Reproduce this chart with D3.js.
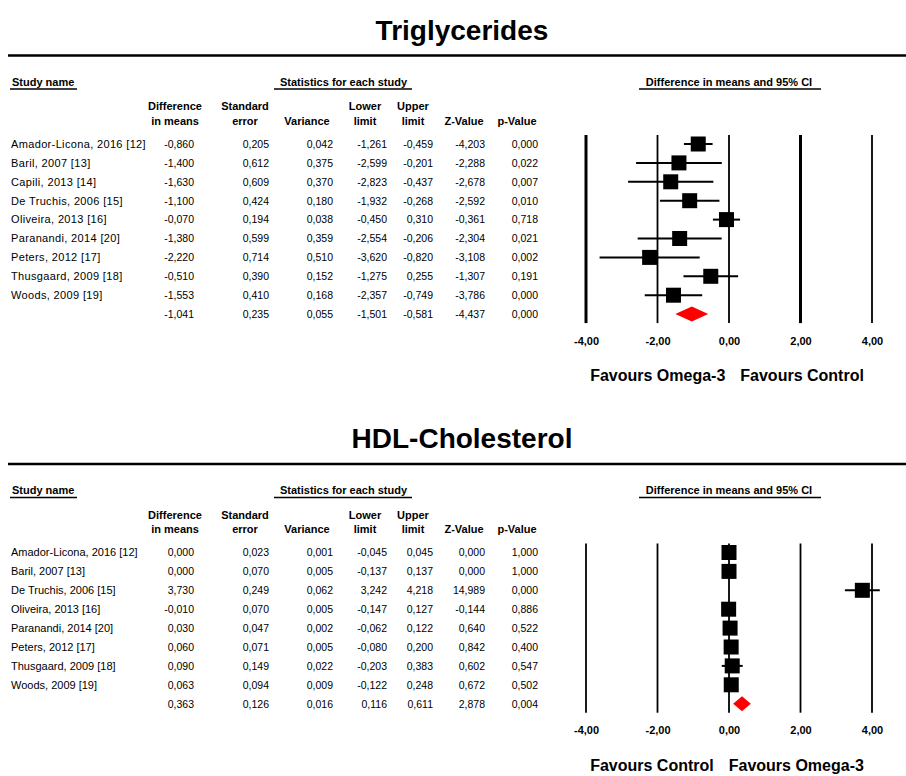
<!DOCTYPE html>
<html>
<head>
<meta charset="utf-8">
<script src="https://cdn.jsdelivr.net/npm/d3@7"></script>
<style>
  html, body { margin: 0; padding: 0; background: #fff; }
  svg { display: block; font-family: "Liberation Sans", Arial, sans-serif; }
</style>
</head>
<body>
<svg id="chart" width="906" height="776"></svg>
<script>
// ---- Triglycerides ----
const tgStudies = ["Amador-Licona, 2016 [12]", "Baril, 2007 [13]", "Capili, 2013 [14]", "De Truchis, 2006 [15]",
  "Oliveira, 2013 [16]", "Paranandi, 2014 [20]", "Peters, 2012 [17]", "Thusgaard, 2009 [18]", "Woods, 2009 [19]"];
const tgDiff  = [-0.860, -1.400, -1.630, -1.100, -0.070, -1.380, -2.220, -0.510, -1.553];
const tgSE    = [0.205, 0.612, 0.609, 0.424, 0.194, 0.599, 0.714, 0.390, 0.410];
const tgVar   = [0.042, 0.375, 0.370, 0.180, 0.038, 0.359, 0.510, 0.152, 0.168];
const tgLower = [-1.261, -2.599, -2.823, -1.932, -0.450, -2.554, -3.620, -1.275, -2.357];
const tgUpper = [-0.459, -0.201, -0.437, -0.268, 0.310, -0.206, -0.820, 0.255, -0.749];
const tgZ     = [-4.203, -2.288, -2.678, -2.592, -0.361, -2.304, -3.108, -1.307, -3.786];
const tgP     = [0.000, 0.022, 0.007, 0.010, 0.718, 0.021, 0.002, 0.191, 0.000];
// pooled: diff, se, variance, lower, upper, z, p
const tgPooled = [-1.041, 0.235, 0.055, -1.501, -0.581, -4.437, 0.000];

// ---- HDL-Cholesterol ----
const hdlStudies = ["Amador-Licona, 2016 [12]", "Baril, 2007 [13]", "De Truchis, 2006 [15]", "Oliveira, 2013 [16]",
  "Paranandi, 2014 [20]", "Peters, 2012 [17]", "Thusgaard, 2009 [18]", "Woods, 2009 [19]"];
const hdlDiff  = [0.000, 0.000, 3.730, -0.010, 0.030, 0.060, 0.090, 0.063];
const hdlSE    = [0.023, 0.070, 0.249, 0.070, 0.047, 0.071, 0.149, 0.094];
const hdlVar   = [0.001, 0.005, 0.062, 0.005, 0.002, 0.005, 0.022, 0.009];
const hdlLower = [-0.045, -0.137, 3.242, -0.147, -0.062, -0.080, -0.203, -0.122];
const hdlUpper = [0.045, 0.137, 4.218, 0.127, 0.122, 0.200, 0.383, 0.248];
const hdlZ     = [0.000, 0.000, 14.989, -0.144, 0.640, 0.842, 0.602, 0.672];
const hdlP     = [1.000, 1.000, 0.000, 0.886, 0.522, 0.400, 0.547, 0.502];
const hdlPooled = [0.363, 0.126, 0.016, 0.116, 0.611, 2.878, 0.004];

const axisTicks = [-4, -2, 0, 2, 4];

// European number style: comma decimals, ASCII hyphen for minus
const locale = d3.formatLocale({ decimal: ",", thousands: ".", grouping: [3], currency: ["", ""], minus: "-" });
const f3 = locale.format(".3f");
const f2 = locale.format(".2f");

const svg = d3.select("#chart");
const x = d3.scaleLinear().domain([-4, 4]).range([586, 872]);

// Column layout of the statistics table (right edges of values, header centres)
const cols = [
  { head: ["Difference", "in means"], cx: 175, right: 194 },
  { head: ["Standard", "error"], cx: 245, right: 269 },
  { head: ["", "Variance"], cx: 307, right: 333 },
  { head: ["Lower", "limit"], cx: 365, right: 387 },
  { head: ["Upper", "limit"], cx: 413, right: 433 },
  { head: ["", "Z-Value"], cx: 464, right: 485 },
  { head: ["", "p-Value"], cx: 517, right: 538 }
];

function panel(cfg) {
  const g = svg.append("g");
  const top = cfg.rule;
  const rowStep = 18.9;
  const row0 = top + 88.5;
  const n = cfg.studies.length;
  const rowY = i => row0 + i * rowStep;

  // title and rule
  g.append("text").attr("x", 462).attr("y", top - 16)
    .attr("text-anchor", "middle").attr("font-size", 28).attr("font-weight", "bold")
    .text(cfg.title);
  g.append("line").attr("x1", 8).attr("x2", 906).attr("y1", top).attr("y2", top)
    .attr("stroke", "#000").attr("stroke-width", 2.5);

  // group headers with underlines
  const groupHeads = [
    { text: "Study name", x: 12, anchor: "start", u: [10, 77] },
    { text: "Statistics for each study", x: 343.5, anchor: "middle", u: [274, 412] },
    { text: "Difference in means and 95% CI", x: x(0), anchor: "middle", u: [639, 821] }
  ];
  groupHeads.forEach(h => {
    g.append("text").attr("x", h.x).attr("y", top + 30).attr("text-anchor", h.anchor)
      .attr("font-size", 11).attr("font-weight", "bold").text(h.text);
    g.append("line").attr("x1", h.u[0]).attr("x2", h.u[1]).attr("y1", top + 33.5).attr("y2", top + 33.5)
      .attr("stroke", "#000").attr("stroke-width", 1.3);
  });

  // column headers
  cols.forEach(c => {
    c.head.forEach((t, k) => {
      if (!t) return;
      g.append("text").attr("x", c.cx).attr("y", top + 54.5 + k * 14.6)
        .attr("text-anchor", "middle").attr("font-size", 11).attr("font-weight", "bold").text(t);
    });
  });

  // table body
  const rows = cfg.studies.map((s, i) => ({
    name: s,
    vals: [cfg.diff[i], cfg.se[i], cfg.variance[i], cfg.lower[i], cfg.upper[i], cfg.z[i], cfg.p[i]]
  }));
  rows.push({ name: "", vals: cfg.pooled });

  rows.forEach((r, i) => {
    const y = rowY(i) + 3.8;
    g.append("text").attr("x", 11).attr("y", y).attr("font-size", 11)
      .attr("letter-spacing", cfg.nameSpacing).text(r.name);
    r.vals.forEach((v, k) => {
      g.append("text").attr("x", cols[k].right).attr("y", y).attr("text-anchor", "end")
        .attr("font-size", 10.5).text(f3(v));
    });
  });

  // forest plot reference lines
  const yTop = row0 - 9, yBot = rowY(n) + 9;
  g.selectAll(".ref").data(axisTicks).enter().append("line")
    .attr("x1", d => x(d)).attr("x2", d => x(d)).attr("y1", yTop).attr("y2", yBot)
    .attr("stroke", "#000").attr("stroke-width", d => cfg.heavy.includes(d) ? 3 : 1.8);

  // tick labels via a bottom axis without ticks or domain
  const axis = d3.axisBottom(x).tickValues(axisTicks).tickSize(0).tickFormat(f2);
  const ag = g.append("g").attr("transform", `translate(0,${yBot + 11})`).call(axis);
  ag.select(".domain").remove();
  ag.selectAll("text").attr("font-size", 11).attr("font-weight", "bold")
    .attr("font-family", "'Liberation Sans', Arial, sans-serif").attr("fill", "#000");

  // confidence intervals and study squares
  const sq = 15;
  cfg.studies.forEach((s, i) => {
    const y = rowY(i);
    g.append("line").attr("x1", x(cfg.lower[i])).attr("x2", x(cfg.upper[i]))
      .attr("y1", y).attr("y2", y).attr("stroke", "#000").attr("stroke-width", 2);
    g.append("rect").attr("x", x(cfg.diff[i]) - sq / 2).attr("y", y - sq / 2)
      .attr("width", sq).attr("height", sq).attr("fill", "#000");
  });

  // pooled diamond
  const yd = rowY(n), hd = 7.5;
  const pts = [[x(cfg.pooled[3]), yd], [x(cfg.pooled[0]), yd - hd], [x(cfg.pooled[4]), yd], [x(cfg.pooled[0]), yd + hd]];
  g.append("polygon").attr("points", pts.map(p => p.join(",")).join(" ")).attr("fill", "#ff0000");

  // favours labels, the pair centred under the plot
  const yf = yBot + 58;
  const fav = g.append("text").attr("y", yf).attr("font-size", 16).attr("font-weight", "bold");
  const left = fav.append("tspan").text(cfg.favLeft);
  const right = fav.append("tspan").attr("dx", 15).text(cfg.favRight);
  const w = fav.node().getComputedTextLength() + 15;
  fav.attr("x", 727 - w / 2);
}

panel({
  title: "Triglycerides", rule: 55.5,
  studies: tgStudies, diff: tgDiff, se: tgSE, variance: tgVar, lower: tgLower, upper: tgUpper,
  z: tgZ, p: tgP, pooled: tgPooled, heavy: [-4, 2], nameSpacing: 0.35,
  favLeft: "Favours Omega-3", favRight: "Favours Control"
});

panel({
  title: "HDL-Cholesterol", rule: 464,
  studies: hdlStudies, diff: hdlDiff, se: hdlSE, variance: hdlVar, lower: hdlLower, upper: hdlUpper,
  z: hdlZ, p: hdlP, pooled: hdlPooled, heavy: [], nameSpacing: 0,
  favLeft: "Favours Control", favRight: "Favours Omega-3"
});
</script>
</body>
</html>
